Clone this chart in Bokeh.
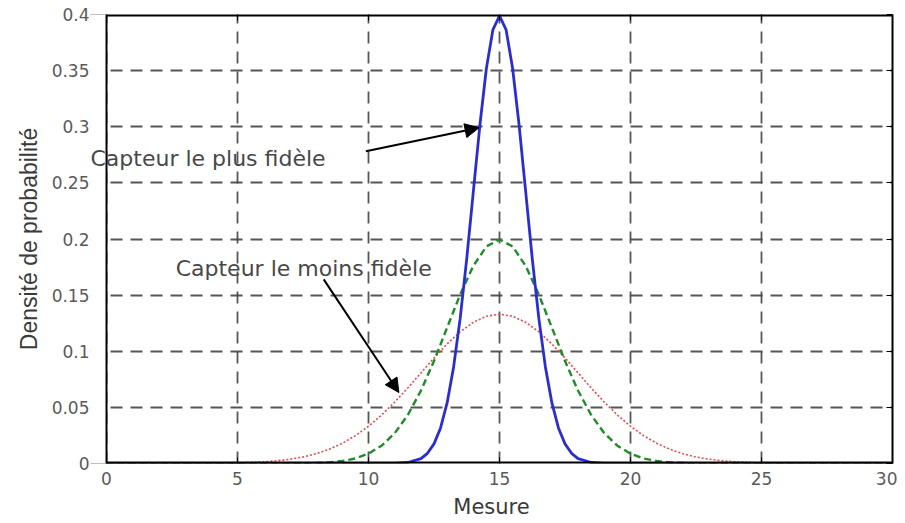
from bokeh.plotting import figure
from bokeh.models import Range1d, LinearAxis, FixedTicker, Label, Arrow, NormalHead, Span, BoxAnnotation
from bokeh.embed import file_html
from bokeh.resources import INLINE

# --- data ---
blue_x = [0, 10, 11, 11.5, 12, 12.25, 12.5, 12.75, 13, 13.25, 13.5, 13.75, 14, 14.25, 14.5, 14.75, 15,
          15.25, 15.5, 15.75, 16, 16.25, 16.5, 16.75, 17, 17.25, 17.5, 17.75, 18, 18.5, 19, 20, 30]
blue_y = [0, 0, 0.0001, 0.0009, 0.0044, 0.0091, 0.0175, 0.0317, 0.054, 0.0863, 0.1295, 0.1826, 0.242,
          0.3011, 0.3521, 0.3866, 0.3989, 0.3866, 0.3521, 0.3011, 0.242, 0.1826, 0.1295, 0.0863, 0.054,
          0.0317, 0.0175, 0.0091, 0.0044, 0.0009, 0.0001, 0, 0]

green_x = [0, 6, 7, 7.5, 8, 8.5, 9, 9.5, 10, 10.5, 11, 11.5, 12, 12.5, 13, 13.5, 14, 14.5, 15,
           15.5, 16, 16.5, 17, 17.5, 18, 18.5, 19, 19.5, 20, 20.5, 21, 21.5, 22, 22.5, 23, 24, 30]
green_y = [0, 0, 0.0001, 0.0002, 0.0004, 0.001, 0.0022, 0.0045, 0.0088, 0.0159, 0.027, 0.0432, 0.0648,
           0.0913, 0.121, 0.1506, 0.176, 0.1934, 0.1995, 0.1934, 0.176, 0.1506, 0.121, 0.0913, 0.0648,
           0.0432, 0.027, 0.0159, 0.0088, 0.0045, 0.0022, 0.001, 0.0004, 0.0002, 0.0001, 0, 0]

red_x = [0, 4, 5, 5.5, 6, 6.5, 7, 7.5, 8, 8.5, 9, 9.5, 10, 10.5, 11, 11.5, 12, 12.5, 13, 13.5, 14, 14.5, 15,
         15.5, 16, 16.5, 17, 17.5, 18, 18.5, 19, 19.5, 20, 20.5, 21, 21.5, 22, 22.5, 23, 23.5, 24, 24.5, 25, 26, 30]
red_y = [0, 0.0002, 0.0005, 0.0009, 0.0015, 0.0024, 0.0038, 0.0058, 0.0087, 0.0127, 0.018, 0.0248, 0.0332,
         0.0432, 0.0547, 0.0673, 0.0807, 0.094, 0.1065, 0.1174, 0.1258, 0.1312, 0.133, 0.1312, 0.1258, 0.1174,
         0.1065, 0.094, 0.0807, 0.0673, 0.0547, 0.0432, 0.0332, 0.0248, 0.018, 0.0127, 0.0087, 0.0058, 0.0038,
         0.0024, 0.0015, 0.0009, 0.0005, 0.0002, 0]

x_ticks = [0, 5, 10, 15, 20, 25, 30]
y_ticks = [0, 0.05, 0.1, 0.15, 0.2, 0.25, 0.3, 0.35, 0.4]
y_tick_labels = {0: "0", 0.05: "0.05", 0.1: "0.1", 0.15: "0.15", 0.2: "0.2",
                 0.25: "0.25", 0.3: "0.3", 0.35: "0.35", 0.4: "0.4"}

x_label = "Mesure"
y_label = "Densité de probabilité"
note_plus = "Capteur le plus fidèle"
note_moins = "Capteur le moins fidèle"

X_MIN, X_MAX, Y_MIN, Y_MAX = 0, 30, 0, 0.4
LEFT_PAD = -0.611   # a little room left of x=0 so the first note can overlap the axis

# --- figure ---
p = figure(width=897, height=521, output_backend="svg", toolbar_location=None,
           x_range=Range1d(LEFT_PAD, X_MAX), y_range=Range1d(Y_MIN, Y_MAX),
           min_border_left=90, min_border_right=5, min_border_top=14, min_border_bottom=51)
p.background_fill_color = "white"
p.border_fill_color = "white"
p.outline_line_color = None

tick_font = "DejaVu Sans"
for ax in (p.xaxis[0], p.yaxis[0]):
    ax.axis_line_color = None
    ax.major_tick_in = 6
    ax.major_tick_out = 0
    ax.major_tick_line_color = "black"
    ax.minor_tick_line_color = None
    ax.major_label_text_font = tick_font
    ax.major_label_text_font_size = "17px"
    ax.major_label_text_color = "#5a5a5a"
    ax.axis_label_text_font_style = "normal"
    ax.axis_label_text_color = "#3a3a3a"

p.yaxis.major_tick_line_color = None
p.xaxis.ticker = FixedTicker(ticks=x_ticks)
p.yaxis.ticker = FixedTicker(ticks=y_ticks)
p.yaxis.major_label_overrides = y_tick_labels
p.xaxis.axis_label = x_label
p.yaxis.axis_label = y_label
p.xaxis.axis_label_text_font = "DejaVu Sans"
p.xaxis.axis_label_text_font_size = "21px"
p.yaxis.axis_label_text_font = "Liberation Sans"
p.yaxis.axis_label_text_font_size = "23px"
p.xaxis.major_label_standoff = 8
p.xaxis.axis_label_standoff = 7
p.yaxis.major_label_standoff = 1
p.yaxis.axis_label_standoff = 7

# mirror ticks on top/right (no labels)
top = LinearAxis(ticker=FixedTicker(ticks=x_ticks),
                 major_label_overrides={t: "" for t in x_ticks},
                 major_tick_in=6, major_tick_out=0, minor_tick_line_color=None,
                 axis_line_color=None, major_label_standoff=0)
right = LinearAxis(ticker=FixedTicker(ticks=y_ticks),
                   major_label_overrides={t: "" for t in y_ticks},
                   major_tick_in=6, major_tick_out=0, minor_tick_line_color=None,
                   axis_line_color="black", axis_line_width=2, major_label_standoff=0)
p.add_layout(top, "above")
p.add_layout(right, "right")

for g in (p.xgrid[0], p.ygrid[0]):
    g.grid_line_color = "#444444"
    g.grid_line_dash = "12 8"
    g.grid_line_width = 1.8
    g.grid_line_alpha = 0.9
p.xgrid.ticker = FixedTicker(ticks=x_ticks)
p.ygrid.ticker = FixedTicker(ticks=y_ticks)

# --- curves ---
p.line(red_x, red_y, line_color="#e8484f", line_width=1.6, line_dash="2 2")
p.line(green_x, green_y, line_color="#1e8c2a", line_width=2.4, line_dash="7 4")
p.line(blue_x, blue_y, line_color="#2a2ed0", line_width=2.8)

# --- box frame (drawn so that the axis box starts at x = 0) ---
p.add_layout(Span(location=Y_MIN, dimension="width", line_color="black", line_width=4))
p.add_layout(Span(location=Y_MAX, dimension="width", line_color="black", line_width=4))
p.add_layout(BoxAnnotation(left=LEFT_PAD - 1, right=X_MIN, bottom=Y_MIN - 1, top=Y_MAX + 1,
                           fill_color="white", fill_alpha=1.0, line_color=None))
p.add_layout(Span(location=X_MIN, dimension="height", line_color="black", line_width=2))

# --- annotations ---
note_font = "DejaVu Sans"
p.add_layout(Label(x=LEFT_PAD, y=0.2719, level="overlay",
                   text=note_plus, text_font=note_font, text_font_size="22px",
                   text_color="#484848", text_baseline="middle", text_align="left"))
p.add_layout(Label(x=2.64, y=0.1737, text=note_moins, text_font=note_font, text_font_size="22px",
                   text_color="#484848", text_baseline="middle", text_align="left"))
p.add_layout(Arrow(end=NormalHead(size=14, fill_color="black", line_color="black"),
                   x_start=9.9, y_start=0.2781, x_end=14.22, y_end=0.2991,
                   line_color="black", line_width=2))
p.add_layout(Arrow(end=NormalHead(size=14, fill_color="black", line_color="black"),
                   x_start=8.29, y_start=0.164, x_end=11.16, y_end=0.0632,
                   line_color="black", line_width=2))

open("out.html", "w").write(file_html(p, INLINE))
